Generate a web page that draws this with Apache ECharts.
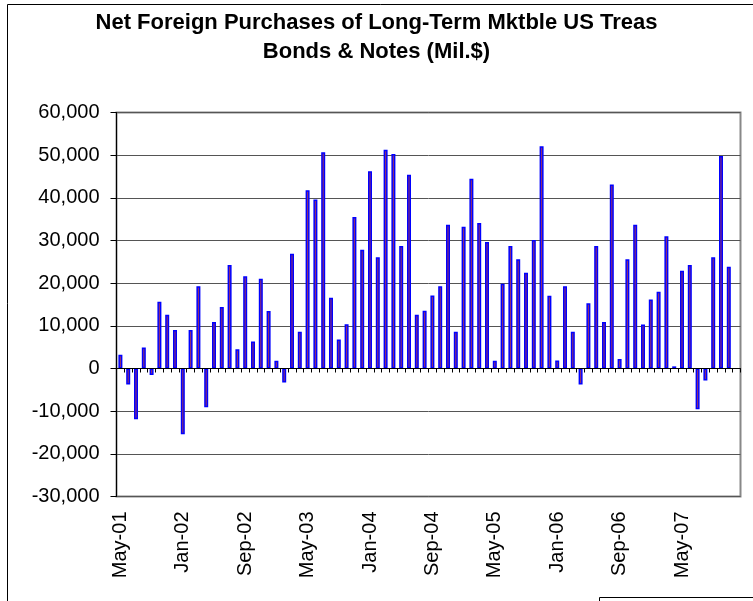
<!DOCTYPE html>
<html>
<head>
<meta charset="utf-8">
<script src="https://cdn.jsdelivr.net/npm/echarts@6/dist/echarts.min.js"></script>
<style>
  html, body { margin: 0; padding: 0; background: #fff; }
  #chart { width: 753px; height: 601px; }
</style>
</head>
<body>
<div id="chart"></div>
<script>
// month categories, May-01 .. Dec-07
const months = [
  'May-01', 'Jun-01', 'Jul-01', 'Aug-01', 'Sep-01', 'Oct-01', 'Nov-01', 'Dec-01',
  'Jan-02', 'Feb-02', 'Mar-02', 'Apr-02', 'May-02', 'Jun-02', 'Jul-02', 'Aug-02',
  'Sep-02', 'Oct-02', 'Nov-02', 'Dec-02', 'Jan-03', 'Feb-03', 'Mar-03', 'Apr-03',
  'May-03', 'Jun-03', 'Jul-03', 'Aug-03', 'Sep-03', 'Oct-03', 'Nov-03', 'Dec-03',
  'Jan-04', 'Feb-04', 'Mar-04', 'Apr-04', 'May-04', 'Jun-04', 'Jul-04', 'Aug-04',
  'Sep-04', 'Oct-04', 'Nov-04', 'Dec-04', 'Jan-05', 'Feb-05', 'Mar-05', 'Apr-05',
  'May-05', 'Jun-05', 'Jul-05', 'Aug-05', 'Sep-05', 'Oct-05', 'Nov-05', 'Dec-05',
  'Jan-06', 'Feb-06', 'Mar-06', 'Apr-06', 'May-06', 'Jun-06', 'Jul-06', 'Aug-06',
  'Sep-06', 'Oct-06', 'Nov-06', 'Dec-06', 'Jan-07', 'Feb-07', 'Mar-07', 'Apr-07',
  'May-07', 'Jun-07', 'Jul-07', 'Aug-07', 'Sep-07', 'Oct-07', 'Nov-07', 'Dec-07'
]

// net purchases, Mil.$
const purchases = [
  3200, -3750, -11900, 4900, -1500, 15650, 12600, 9000, -15400, 9000,
  19300, -9100, 10900, 14400, 24250, 4500, 21600, 6300, 21050, 13450,
  1800, -3300, 26900, 8600, 41800, 39600, 50700, 16600, 6800, 10400,
  35500, 27850, 46250, 26050, 51250, 50300, 28700, 45400, 12600, 13550,
  17100, 19300, 33700, 8600, 33250, 44500, 34100, 29650, 1800, 19850,
  28700, 25600, 22450, 30100, 52100, 17050, 1900, 19300, 8600, -3750,
  15300, 28700, 10900, 43100, 2250, 25600, 33700, 10300, 16200, 18000,
  31000, 500, 22900, 24250, -9550, -2800, 26050, 49800, 23850, null
]

const yMin = -30000
const yMax = 60000
const yStep = 10000

const font = 'Liberation Sans, Arial, sans-serif'

const chart = echarts.init(document.getElementById('chart'))

const option = {
  backgroundColor: '#fff',
  animation: false,
  title: {
    text: 'Net Foreign Purchases of Long-Term Mktble US Treas\nBonds & Notes (Mil.$)',
    left: 'center',
    top: 8,
    padding: [0, 0, 0, 11],
    textStyle: {
      fontFamily: font,
      fontSize: 22,
      fontWeight: 'bold',
      color: '#000',
      lineHeight: 29,
    },
  },
  grid: {
    left: 116.5,
    right: 12.5,
    top: 112.5,
    bottom: 104.5,
    show: true,
    borderColor: '#888',
    borderWidth: 2,
    backgroundColor: 'transparent',
  },
  xAxis: [
    {
      // zero line with tick marks
      type: 'category',
      data: months,
      axisLine: { onZero: true, lineStyle: { color: '#000', width: 1 } },
      axisTick: { show: true, interval: 0, length: 4, lineStyle: { color: '#000' } },
      axisLabel: { show: false },
      splitLine: { show: false },
      z: 5,
    },
    {
      // month labels along the bottom
      type: 'category',
      data: months,
      position: 'bottom',
      axisLine: { show: false, onZero: false },
      axisTick: { show: false },
      axisLabel: {
        interval: 7,
        rotate: 90,
        margin: 15,
        fontFamily: font,
        fontSize: 20,
        color: '#000',
      },
    },
  ],
  yAxis: {
    type: 'value',
    min: yMin,
    max: yMax,
    interval: yStep,
    axisLine: { show: true, lineStyle: { color: '#000', width: 1 } },
    axisTick: { show: true, length: 6, lineStyle: { color: '#000' } },
    axisLabel: {
      margin: 17,
      fontFamily: font,
      fontSize: 20,
      color: '#000',
      formatter: (v) => v.toLocaleString('en-US'),
    },
    splitLine: { show: true, lineStyle: { color: '#555', width: 1 } },
  },
  series: [
    {
      type: 'bar',
      xAxisIndex: 0,
      data: purchases,
      barWidth: 4,
      itemStyle: {
        color: '#993366',
        borderColor: '#0000ff',
        borderWidth: 1.5,
      },
    },
  ],
  graphic: [
    {
      // outer chart frame
      type: 'rect',
      shape: { x: 7.5, y: 4.5, width: 800, height: 700 },
      style: { fill: 'none', stroke: '#000', lineWidth: 1 },
      z: -10,
    },
    {
      // corner of another box peeking in at the bottom right
      type: 'rect',
      shape: { x: 599.5, y: 597.5, width: 300, height: 50 },
      style: { fill: 'none', stroke: '#000', lineWidth: 1 },
      z: -10,
    },
  ],
}

chart.setOption(option)
</script>
</body>
</html>
